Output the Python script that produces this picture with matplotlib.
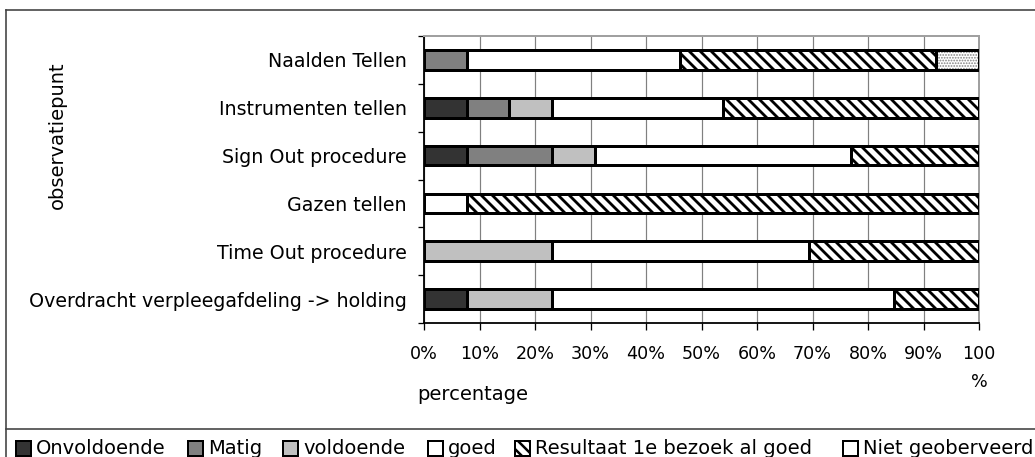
import matplotlib.pyplot as plt
from matplotlib.lines import Line2D
from matplotlib.patches import Rectangle
import numpy as np

DPI = 66
W, H = 1035, 457
PT = 72 / DPI  # pixels -> points

plt.rcParams['font.family'] = ['DejaVu Sans']

# categorieen (van onder naar boven)
observatiepunten = [
    "Overdracht verpleegafdeling -> holding",
    "Time Out procedure",
    "Gazen tellen",
    "Sign Out procedure",
    "Instrumenten tellen",
    "Naalden Tellen",
]

# percentages per score (13 observaties)
onvoldoende = [7.7, 0.0, 0.0, 7.7, 7.7, 0.0]
matig = [0.0, 0.0, 0.0, 15.4, 7.7, 7.7]
voldoende = [15.4, 23.1, 0.0, 7.7, 7.7, 0.0]
goed = [61.5, 46.2, 7.7, 46.2, 30.8, 38.5]
resultaat_goed = [15.4, 30.7, 92.3, 23.0, 46.1, 46.1]
niet_geobserveerd = [0.0, 0.0, 0.0, 0.0, 0.0, 7.7]

x_ticklabels = ["0%", "10%", "20%", "30%", "40%", "50%", "60%", "70%",
                "80%", "90%", "100\n%"]

legenda_labels = ["Onvoldoende", "Matig", "voldoende", "goed",
                  "Resultaat 1e bezoek al goed", "Niet geoberveerd"]


def fx(px):
    return px / W


def fy(py):
    return 1 - py / H


fig = plt.figure(figsize=(W / DPI, H / DPI), dpi=DPI)
ax = fig.add_axes([fx(424), fy(323), (979 - 424) / W, (323 - 36) / H])

y = np.arange(len(observatiepunten))
h = 0.41
links = np.zeros(len(y))

plt.rcParams['hatch.linewidth'] = 2.8 * PT
reeksen = [
    (onvoldoende, "#333333", None),
    (matig, "#808080", None),
    (voldoende, "#c0c0c0", None),
    (goed, "white", None),
    (resultaat_goed, "white", "\\\\"),
]
for waarden, kleur, hatch in reeksen:
    w = np.array(waarden)
    ax.barh(y, w, left=links, height=h, color=kleur, hatch=hatch,
            edgecolor="black", linewidth=3 * PT, zorder=3)
    links = links + w

# stippen in grijs, rand in zwart
w = np.array(niet_geobserveerd)
with plt.rc_context({'hatch.linewidth': 1.2 * PT}):
    ax.barh(y, w, left=links, height=h, color="white", hatch="....",
            edgecolor="#808080", linewidth=0, zorder=3)
ax.barh(y, w, left=links, height=h, color="none",
        edgecolor="black", linewidth=3 * PT, zorder=4)

ax.set_xlim(0, 100)
ax.set_ylim(-0.5, len(y) - 0.5)
ax.set_xticks(np.arange(0, 101, 10))
ax.set_xticklabels(x_ticklabels, fontsize=17.5 * PT, linespacing=1.7)
ax.tick_params(axis="x", length=7 * PT, width=1.3 * PT, pad=15 * PT, color="black")
ax.grid(axis="x", color="#808080", linewidth=1.2 * PT, zorder=0)

ax.set_yticks(np.arange(-0.5, len(y), 1))
ax.set_yticklabels([])
ax.set_yticks(y, minor=True)
ax.set_yticklabels(observatiepunten, minor=True, fontsize=19 * PT)
ax.tick_params(axis="y", which="major", length=6 * PT, width=1.3 * PT, color="black")
ax.tick_params(axis="y", which="minor", length=0, pad=17 * PT)

for kant in ["top", "right"]:
    ax.spines[kant].set_color("#a0a0a0")
    ax.spines[kant].set_linewidth(2 * PT)
for kant in ["left", "bottom"]:
    ax.spines[kant].set_color("black")
    ax.spines[kant].set_linewidth(1.8 * PT)

fig.text(fx(473), fy(395), "percentage", fontsize=19.5 * PT,
         ha="center", va="center")
fig.text(fx(57), fy(135), "observatiepunt", fontsize=19.5 * PT,
         ha="center", va="center", rotation=90)

# kaders
rand = "#404040"
fig.add_artist(Line2D([fx(6), fx(6)], [0, fy(10)], color=rand, lw=1.6 * PT))
fig.add_artist(Line2D([fx(6), 1], [fy(10), fy(10)], color=rand, lw=1.6 * PT))
fig.add_artist(Line2D([fx(6), 1], [fy(429), fy(429)], color=rand, lw=1.6 * PT))

# legenda
leg_kleur = ["#333333", "#808080", "#c0c0c0", "white", "white", "white"]
leg_hatch = [None, None, None, None, "\\\\", None]
leg_x = [16, 188, 283, 428, 515, 843]
with plt.rc_context({'hatch.linewidth': 2.5 * PT}):
    for lx, kleur, hatch, tekst in zip(leg_x, leg_kleur, leg_hatch, legenda_labels):
        fig.add_artist(Rectangle((fx(lx), fy(456)), 15 / W, 15 / H,
                                 facecolor=kleur, edgecolor="black", hatch=hatch,
                                 linewidth=2 * PT, transform=fig.transFigure))
        fig.text(fx(lx + 20), fy(448), tekst, fontsize=19.5 * PT,
                 ha="left", va="center")

fig.savefig("out.png", dpi=DPI)
